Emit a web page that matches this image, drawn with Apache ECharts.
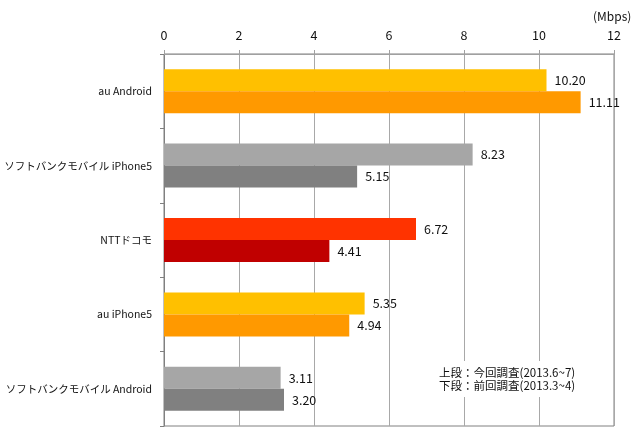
<!DOCTYPE html>
<html>
<head>
<meta charset="utf-8">
<script src="https://cdn.jsdelivr.net/npm/echarts@6/dist/echarts.min.js"></script>
<style>
  html, body { margin: 0; padding: 0; background: #fff; }
  #chart { width: 640px; height: 436px; }
</style>
</head>
<body>
<div id="chart"></div>
<script>
// categories, top to bottom
const categories = ['au Android', 'ソフトバンクモバイル iPhone5', 'NTTドコモ', 'au iPhone5', 'ソフトバンクモバイル Android'];
// upper bar: this survey (2013.6~7)
const currentValues = [10.20, 8.23, 6.72, 5.35, 3.11];
// lower bar: previous survey (2013.3~4)
const previousValues = [11.11, 5.15, 4.41, 4.94, 3.20];
const xTicks = [0, 2, 4, 6, 8, 10, 12];
const noteLines = ['上段：今回調査(2013.6~7)', '下段：前回調査(2013.3~4)'];

const currentColors = ['#FFC000', '#A6A6A6', '#FF3300', '#FFC000', '#A6A6A6'];
const previousColors = ['#FF9900', '#808080', '#C00000', '#FF9900', '#808080'];

const font = '"Noto Sans CJK JP", "Noto Sans", sans-serif';

const labelStyle = {
  show: true,
  position: 'right',
  distance: 8,
  color: '#111',
  fontSize: 12.5,
  fontFamily: font,
  formatter: (p) => p.value.toFixed(2),
};

const option = {
  animation: false,
  textStyle: { fontFamily: font },
  grid: {
    left: 164,
    right: 26,
    top: 54,
    bottom: 10,
    outerBoundsMode: 'none',
    containLabel: false,
    show: true,
    borderColor: '#808080',
    borderWidth: 1,
  },
  xAxis: {
    type: 'value',
    position: 'top',
    min: xTicks[0],
    max: xTicks[xTicks.length - 1],
    interval: 2,
    axisLine: { show: true, lineStyle: { color: '#a0a0a0' } },
    axisTick: { show: true, length: 4, lineStyle: { color: '#a0a0a0' } },
    axisLabel: { color: '#111', fontSize: 12.5, margin: 12, fontFamily: font },
    splitLine: { show: true, lineStyle: { color: '#a8a8a8' } },
  },
  yAxis: {
    type: 'category',
    data: categories,
    inverse: true,
    axisLine: { show: true, lineStyle: { color: '#808080' } },
    axisTick: { show: true, length: 4, lineStyle: { color: '#808080' } },
    axisLabel: { color: '#111', fontSize: 10.5, margin: 12, fontFamily: font },
  },
  graphic: [
    {
      type: 'text',
      left: 593,
      top: 10,
      style: { text: '(Mbps)', fill: '#111', fontSize: 12, fontFamily: font },
    },
    {
      type: 'rect',
      left: 436,
      top: 361,
      shape: { width: 148, height: 36 },
      style: { fill: '#fff' },
      z: 100,
    },
    {
      type: 'text',
      left: 439,
      top: 366,
      z: 101,
      style: { text: noteLines.join('\n'), fill: '#111', fontSize: 11.5, lineHeight: 13, fontFamily: font },
    },
  ],
  series: [
    {
      name: '今回調査',
      type: 'bar',
      data: currentValues.map((v, i) => ({ value: v, itemStyle: { color: currentColors[i] } })),
      barWidth: 22,
      barGap: '0%',
      label: labelStyle,
    },
    {
      name: '前回調査',
      type: 'bar',
      data: previousValues.map((v, i) => ({ value: v, itemStyle: { color: previousColors[i] } })),
      barWidth: 22,
      barGap: '0%',
      label: labelStyle,
    },
  ],
};

const chart = echarts.init(document.getElementById('chart'));
chart.setOption(option);
</script>
</body>
</html>
